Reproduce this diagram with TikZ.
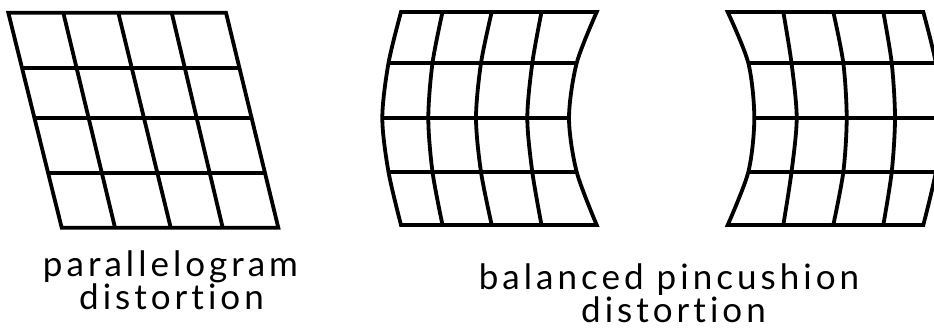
\documentclass[tikz,border=0pt]{standalone}
\usepackage{fontspec}
\newfontfamily\labfont[Ligatures=NoCommon,LetterSpace=11.5]{Lato}
\usetikzlibrary{calc}
\tikzset{
  gridline/.style={line width=3.8pt, black, line join=miter},
  label/.style={inner sep=0pt, anchor=base, font=\labfont\fontsize{35}{41}\selectfont}
}
\begin{document}
\begin{tikzpicture}[x=1pt,y=-1pt]
\useasboundingbox (0,0) rectangle (934,335);
\clip (0,0) rectangle (934,335);
% ---------- parallelogram ----------
\coordinate (t0) at (8.3,12.7);   \coordinate (b0) at (61.7,227.7);
\coordinate (t1) at (63.3,12.7);  \coordinate (b1) at (115,227.7);
\coordinate (t2) at (118.3,12.7); \coordinate (b2) at (170.7,227.7);
\coordinate (t3) at (171.7,12.7); \coordinate (b3) at (222.7,227.7);
\coordinate (t4) at (226,12.7);   \coordinate (b4) at (278.3,227.7);
\draw[gridline] (t0) -- (t4) -- (b4) -- (b0) -- cycle;
\foreach \i in {1,2,3} {\draw[gridline] (t\i) -- (b\i);}
\foreach \t in {0.2586,0.4912,0.7442} {
  \draw[gridline] ($(t0)!\t!(b0)$) -- ($(t4)!\t!(b4)$);
}
% ---------- balanced pincushion 1 ----------
\draw[gridline] plot[smooth] coordinates {(401,12) (388.5,63) (382.3,118) (388.5,172) (401,225)}
  -- (596.7,225) -- plot[smooth] coordinates {(596.7,225) (576.7,172) (569,118) (576.7,63) (596.7,12)} -- cycle;
\draw[gridline] plot[smooth] coordinates {(442.5,12) (432.5,63) (428.3,118) (432.5,172) (442.5,225)};
\draw[gridline] plot[smooth] coordinates {(491.7,12) (481,63) (476,118) (481,172) (491.7,225)};
\draw[gridline] plot[smooth] coordinates {(541.5,12) (532.3,63) (527.3,118) (532.3,172) (541.5,225)};
\draw[gridline] (388.5,63) -- (576.7,63);
\draw[gridline] (382.3,118) -- (569,118);
\draw[gridline] (388.5,172) -- (576.7,172);
% ---------- balanced pincushion 2 (clipped at the right) ----------
\draw[gridline] plot[smooth] coordinates {(727.7,12) (748.3,63) (754.3,118) (748.3,172) (727.7,225)}
  -- (923.3,225) -- plot[smooth] coordinates {(923.3,225) (935.8,172) (942,118) (935.8,63) (923.3,12)} -- cycle;
\draw[gridline] plot[smooth] coordinates {(783.3,12) (791.5,63) (796.7,118) (791.5,172) (783.3,225)};
\draw[gridline] plot[smooth] coordinates {(833.3,12) (843.3,63) (846.7,118) (843.3,172) (833.3,225)};
\draw[gridline] plot[smooth] coordinates {(883.3,12) (891.7,63) (895,118) (891.7,172) (883.3,225)};
\draw[gridline] (748.3,63) -- (935.8,63);
\draw[gridline] (754.3,118) -- (942,118);
\draw[gridline] (748.3,172) -- (935.8,172);
% ---------- labels ----------
\node[label] (l1a) at (170.5,276) {parallelogram};
\node[label] (l1b) at (171.5,309) {distortion};
\node[label] (l2a) at (669,289) {balanced pincushion};
\node[label] (l2b) at (673.5,322) {distortion};
\end{tikzpicture}
\end{document}
